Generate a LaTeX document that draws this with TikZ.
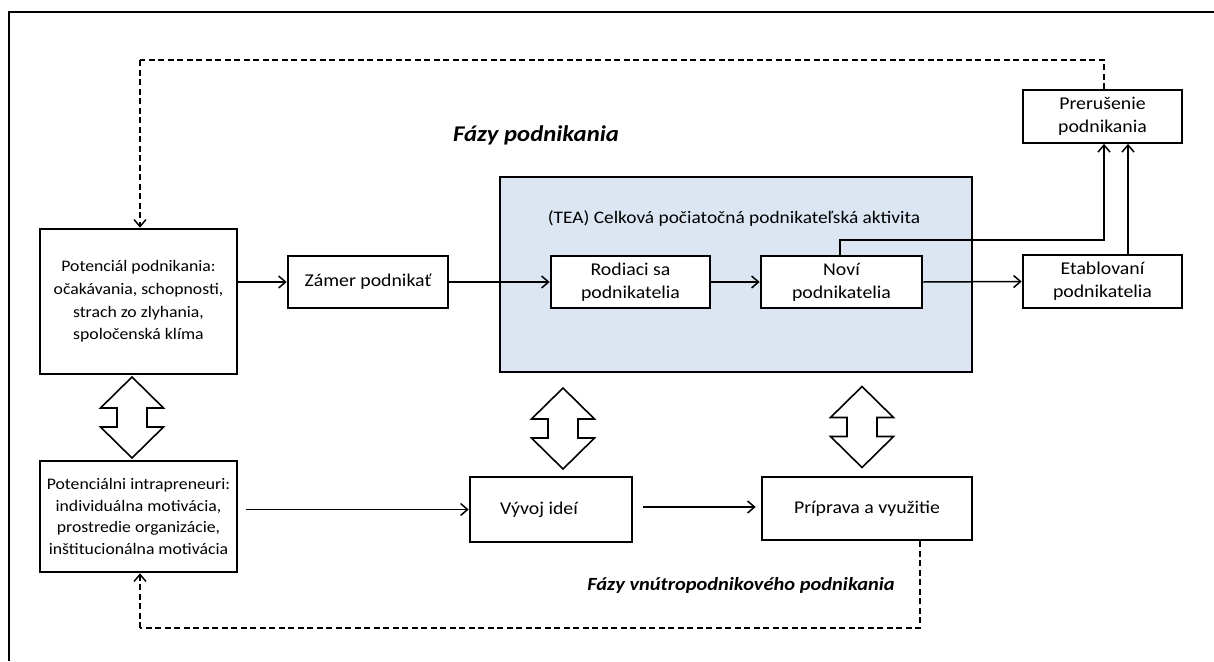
\documentclass[tikz,border=0pt]{standalone}
\usepackage{fontspec}
\setmainfont{Carlito}[FakeStretch=1.1]
\usetikzlibrary{arrows.meta}
\definecolor{teafill}{HTML}{DCE6F2}
\begin{document}
\begin{tikzpicture}[x=1pt,y=-1pt,
  font=\fontsize{18}{22.7}\selectfont,
  box/.style={draw,line width=2.6pt,inner sep=0pt,align=center,fill=white},
  thinbox/.style={box,line width=1.8pt},
  smalltext/.style={font=\fontsize{16.1}{22.7}\selectfont},
  arr/.style={line width=1.5pt,-{Straight Barb[length=7pt,width=12pt,line width=1.5pt]}},
  dsh/.style={line width=2pt,dash pattern=on 6pt off 3.5pt},
  title/.style={font=\fontsize{18.6}{22.7}\selectfont\bfseries\itshape},
  blockarrow/.style={draw,line width=1.6pt,fill=white,line join=miter},
  twoway/.pic={\path[blockarrow] (0,-40.5) -- (31.5,-9.5) -- (15,-9.5) -- (15,9.5) -- (31.5,9.5)
     -- (0,40.5) -- (-31.5,9.5) -- (-15,9.5) -- (-15,-9.5) -- (-31.5,-9.5) -- cycle;}
]
\useasboundingbox (0,0) rectangle (1214,661);
\fill[white] (0,0) rectangle (1214,661);

% outer frame (top and left rules)
\draw[line width=2pt] (1214,12) -- (9,12) -- (9,661);

% TEA region
\node[box,fill=teafill,minimum width=472pt,minimum height=195pt] (tea) at (736,274.5) {};
\node[font=\fontsize{17.6}{22}\selectfont] (tealabel) at (734,218) {(TEA) Celková počiatočná podnikateľská aktivita};

% boxes of the upper chain
\node[box,smalltext,minimum width=197pt,minimum height=145pt] (pot) at (138.5,301.5)
  {Potenciál podnikania:\\očakávania, schopnosti,\\strach zo zlyhania,\\spoločenská klíma};
\node[box,minimum width=160pt,minimum height=52pt] (zam) at (368,282) {Zámer podnikať};
\node[box,minimum width=159pt,minimum height=52pt] (rod) at (630.5,282) {Rodiaci sa\\podnikatelia};
\node[box,minimum width=161pt,minimum height=52pt] (nov) at (841.5,282) {Noví\\podnikatelia};
\node[box,minimum width=159pt,minimum height=53pt] (eta) at (1102.5,281.5) {Etablovaní\\podnikatelia};
\node[thinbox,minimum width=159pt,minimum height=53pt] (pre) at (1102.5,116.5) {Prerušenie\\podnikania};

% boxes of the lower chain
\node[box,font=\fontsize{16.1}{21.7}\selectfont,minimum width=197pt,minimum height=111pt] (intra) at (138.5,516.5)
  {Potenciálni intrapreneuri:\\individuálna motivácia,\\prostredie organizácie,\\inštitucionálna motivácia};
\node[box,minimum width=162pt,minimum height=65pt] (vyv) at (551,509.5) {Vývoj ideí\hspace*{24pt}};
\node[box,minimum width=210pt,minimum height=63pt] (pri) at (867,508.5) {Príprava a využitie};

% titles
\node[title,font=\fontsize{22.5}{26}\selectfont\bfseries\itshape] (t1) at (536,135) {Fázy podnikania};
\node[title] (t2) at (741,585) {Fázy vnútropodnikového podnikania};

% two-way block arrows
\pic at (132,417.5) {twoway};
\pic at (563,428.5) {twoway};
\pic at (862,427) {twoway};

% connectors of the upper chain
\draw[arr] (pot.east |- zam.west) -- (zam.west);
\draw[arr] (zam.east) -- (rod.west);
\draw[arr] (rod.east) -- (nov.west);
\draw[arr] (nov.east) -- (eta.west);
\coordinate (k1) at (1104,240);
\draw[arr] ([xshift=-1.5pt]nov.north) |- (k1) -- (k1 |- pre.south);
\draw[arr] ([xshift=25.5pt]eta.north) -- ([xshift=25.5pt]pre.south);

% connectors of the lower chain
\draw[arr,shorten <=8pt] (intra.east |- vyv.west) -- (vyv.west);
\draw[arr,shorten <=10pt,shorten >=5pt] (vyv.east |- 0,507) -- (pri.west |- 0,507);

% feedback loops
\coordinate (ktop) at (140,60);
\draw[dsh] ([xshift=1.5pt]pre.north) |- (ktop);
\draw[dsh,arr] (ktop) -- (ktop |- pot.north);
\coordinate (kbot) at (140,628);
\draw[dsh] ([xshift=53pt]pri.south) |- (kbot);
\draw[dsh,arr] (kbot) -- (kbot |- intra.south);
\end{tikzpicture}
\end{document}
